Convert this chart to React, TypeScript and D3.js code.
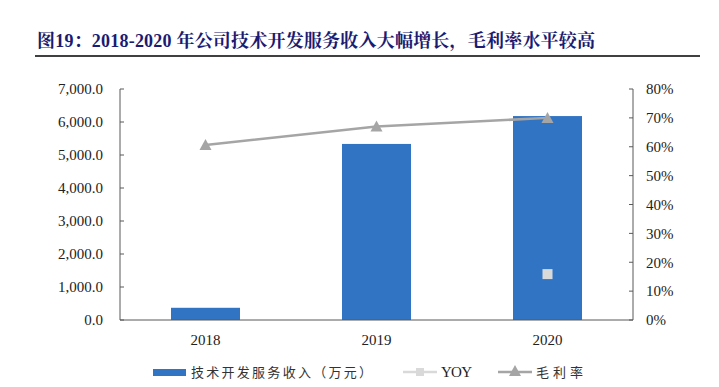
import React from "react";
import * as d3 from "d3";

const years = ["2018", "2019", "2020"];
const revenue = [370, 5335, 6180];
const yoy: (number | null)[] = [null, null, 15.9];
const margin = [60.6, 67.0, 70.0];
const leftTicks = [0, 1000, 2000, 3000, 4000, 5000, 6000, 7000];
const rightTicks = [0, 10, 20, 30, 40, 50, 60, 70, 80];

const W = 719;
const H = 387;
const L = 120;
const R = 633;
const T = 89;
const B = 320;

export default function App() {
  const band = d3.scaleBand<string>().domain(years).range([L, R]);
  const yL = d3.scaleLinear().domain([0, 7000]).range([B, T]);
  const yR = d3.scaleLinear().domain([0, 80]).range([B, T]);
  const cx = (d: string) => (band(d) as number) + band.bandwidth() / 2;
  const bw = 69;
  const line = d3
    .line<number>()
    .x((_, i) => cx(years[i]))
    .y((d) => yR(d));
  const fmt = d3.format(",.1f");
  const serif = "'Liberation Serif', 'Times New Roman', serif";
  const cjk = "'Noto Sans CJK SC', sans-serif";
  const tri = (px: number, py: number) =>
    `M${px},${py - 6}L${px + 6},${py + 5}L${px - 6},${py + 5}Z`;
  return (
    <svg width={W} height={H} style={{ position: "absolute", left: 0, top: 0, background: "#fff" }}>
      <text x={37} y={47} fontFamily={"'Liberation Serif', 'Noto Serif CJK SC', 'Noto Sans CJK SC', serif"} fontWeight="bold" fontSize={18} fill="#1b1b72" textLength={558} lengthAdjust="spacing">
        图19：2018-2020 年公司技术开发服务收入大幅增长，毛利率水平较高
      </text>
      <line x1={35} x2={700} y1={56} y2={56} stroke="#000" strokeWidth={1.5} />
      {years.map((d, i) => (
        <rect key={d} x={cx(d) - bw / 2} y={yL(revenue[i])} width={bw} height={B - yL(revenue[i])} fill="#3274C4" />
      ))}
      <line x1={L} x2={L} y1={T} y2={B} stroke="#595959" />
      <line x1={R} x2={R} y1={T} y2={B} stroke="#595959" />
      <line x1={L} x2={R} y1={B} y2={B} stroke="#595959" />
      {leftTicks.map((t) => (
        <g key={"l" + t}>
          <line x1={L} x2={L + 4} y1={yL(t)} y2={yL(t)} stroke="#595959" />
          <text x={103} y={yL(t)} dy="0.35em" textAnchor="end" fontFamily={serif} fontSize={15} fill="#222">
            {fmt(t)}
          </text>
        </g>
      ))}
      {rightTicks.map((t) => (
        <g key={"r" + t}>
          <line x1={R - 4} x2={R} y1={yR(t)} y2={yR(t)} stroke="#595959" />
          <text x={646} y={yR(t)} dy="0.35em" fontFamily={serif} fontSize={15} fill="#222">
            {t}%
          </text>
        </g>
      ))}
      {years.map((d) => (
        <text key={"x" + d} x={cx(d)} y={345} textAnchor="middle" fontFamily={serif} fontSize={15} fill="#222">
          {d}
        </text>
      ))}
      <path d={line(margin) || ""} fill="none" stroke="#A5A5A5" strokeWidth={2.5} />
      {margin.map((m, i) => (
        <path key={"m" + i} d={tri(cx(years[i]), yR(m))} fill="#A5A5A5" />
      ))}
      {yoy.map((v, i) =>
        v == null ? null : (
          <rect key={"y" + i} x={cx(years[i]) - 5} y={yR(v) - 5} width={10} height={10} fill="#D9D9D9" />
        )
      )}
      {/* legend */}
      <rect x={153} y={369} width={33} height={7} fill="#3274C4" />
      <text x={191} y={372} dy="0.35em" fontFamily={cjk} fontSize={13} fill="#333" textLength={181} lengthAdjust="spacing">
        技术开发服务收入（万元）
      </text>
      <line x1={403} x2={437} y1={372} y2={372} stroke="#D9D9D9" strokeWidth={2.5} />
      <rect x={416} y={368} width={8} height={8} fill="#D9D9D9" />
      <text x={441} y={372} dy="0.35em" fontFamily={serif} fontSize={15} fill="#222" textLength={31} lengthAdjust="spacing">
        YOY
      </text>
      <line x1={498} x2={532} y1={372} y2={372} stroke="#A5A5A5" strokeWidth={2.5} />
      <path d={tri(515, 371)} fill="#A5A5A5" />
      <text x={536} y={372} dy="0.35em" fontFamily={cjk} fontSize={13} fill="#333" textLength={47} lengthAdjust="spacing">
        毛利率
      </text>
    </svg>
  );
}
